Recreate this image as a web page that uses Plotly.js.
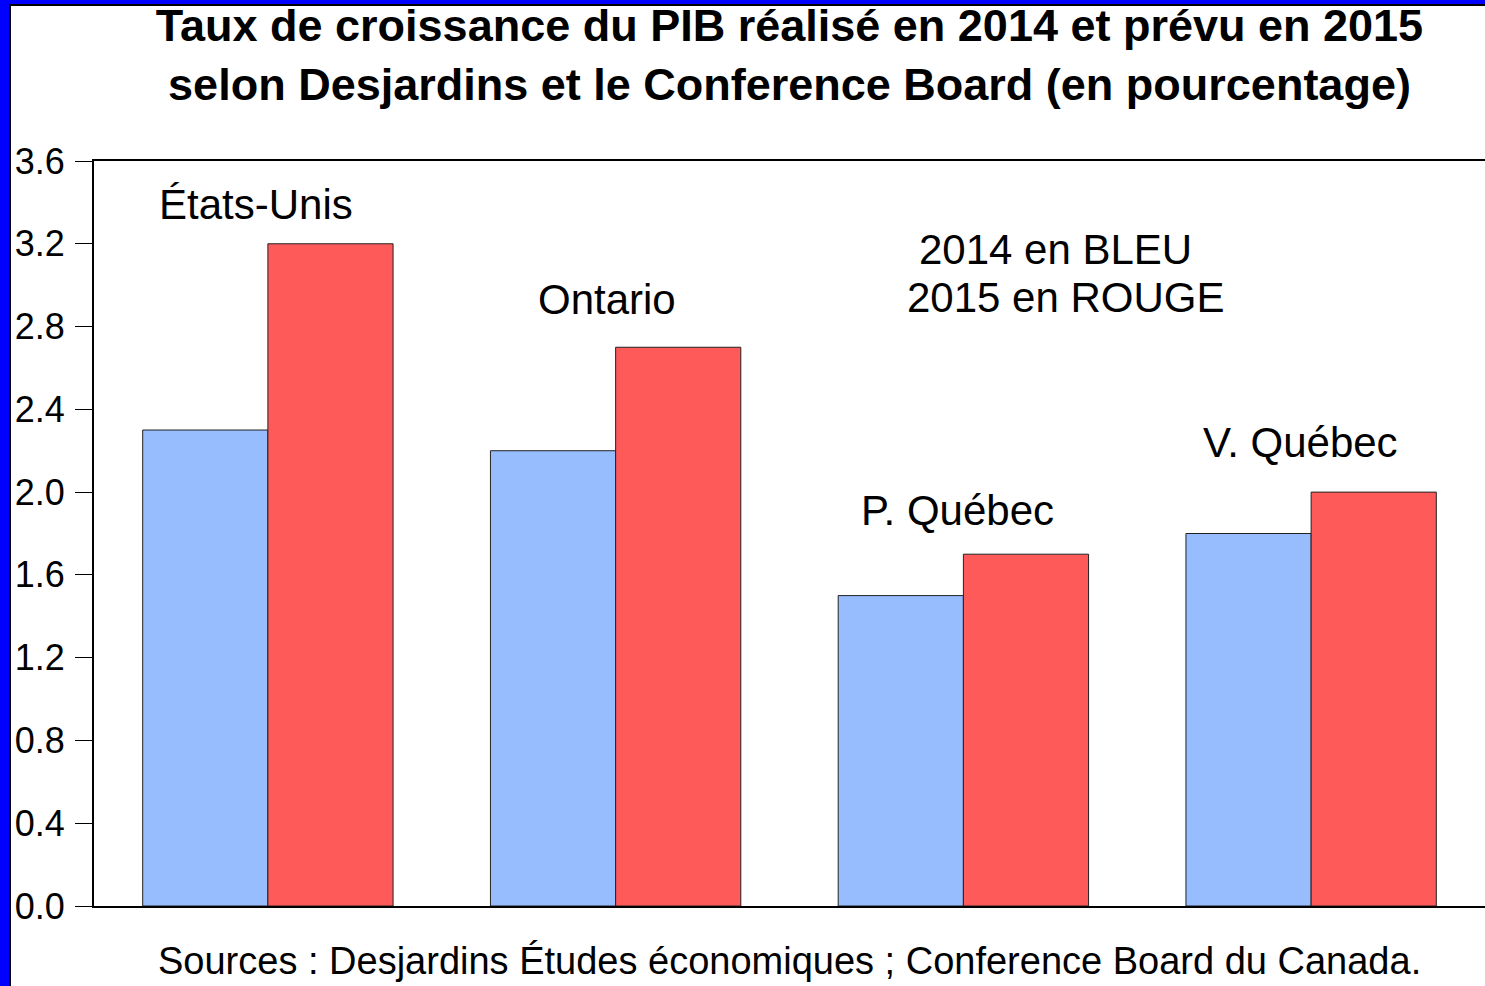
<!DOCTYPE html>
<html>
<head>
<meta charset="utf-8">
<script src="https://cdn.plot.ly/plotly-3.0.1.min.js"></script>
<style>
  body { margin: 0; background: #fff; }
  #wrap { position: relative; width: 1485px; height: 986px; }
  #chart { width: 1485px; height: 986px; }
  #frame {
    position: absolute; left: 0; top: 0; right: 0; bottom: 0;
    border-left: 9px solid #0000ff; border-top: 4px solid #0000ff;
    box-shadow: inset 2px 2px 0 #000; pointer-events: none;
  }
</style>
</head>
<body>
<div id="wrap">
  <div id="chart"></div>
  <div id="frame"></div>
</div>
<script>
// taux de croissance du PIB, en %
let regions = ['États-Unis', 'Ontario', 'P. Québec', 'V. Québec'];
let pib2014 = [2.3, 2.2, 1.5, 1.8];
let pib2015 = [3.2, 2.7, 1.7, 2.0];
let yTicks = [0, 0.4, 0.8, 1.2, 1.6, 2.0, 2.4, 2.8, 3.2, 3.6];

let police = 'Liberation Sans, Arial, sans-serif';

let trace_1 = {
    type: 'bar',
    name: '2014',
    x: regions,
    y: pib2014,
    marker: {color: 'rgb(151,189,255)', line: {color: '#222', width: 1}}
};

let trace_2 = {
    type: 'bar',
    name: '2015',
    x: regions,
    y: pib2015,
    marker: {color: 'rgb(255,90,90)', line: {color: '#222', width: 1}}
};

// etiquettes au-dessus des groupes (decalage x, hauteur y en unites du graphe)
let labelPos = [[-0.033, 3.39], [0.974, 2.93], [1.983, 1.91], [2.968, 2.24]];
let notes = regions.map(function(r, i){
    return {
        text: r, xref: 'x', yref: 'y',
        x: labelPos[i][0], y: labelPos[i][1],
        showarrow: false, xanchor: 'center', yanchor: 'middle',
        font: {family: police, size: 42, color: '#000'}
    };
});

notes.push({
    text: '2014 en BLEU', xref: 'x', yref: 'y', x: 2.265, y: 3.17,
    showarrow: false, xanchor: 'center', yanchor: 'middle',
    font: {family: police, size: 42, color: '#000'}
});
notes.push({
    text: '2015 en ROUGE', xref: 'x', yref: 'y', x: 2.296, y: 2.94,
    showarrow: false, xanchor: 'center', yanchor: 'middle',
    font: {family: police, size: 42, color: '#000'}
});
notes.push({
    text: 'Sources : Desjardins Études économiques ; Conference Board du Canada.',
    xref: 'paper', yref: 'paper', x: 0.5, y: 0, yshift: -55,
    showarrow: false, xanchor: 'center', yanchor: 'middle',
    font: {family: police, size: 38, color: '#000'}
});

let layout = {
    width: 1485,
    height: 986,
    margin: {l: 94, r: 0, t: 161, b: 80},
    paper_bgcolor: '#fff',
    plot_bgcolor: '#fff',
    showlegend: false,
    barmode: 'group',
    bargap: 0.28,
    bargroupgap: 0,
    font: {family: police, color: '#000'},
    title: {
        text: 'Taux de croissance du PIB réalisé en 2014 et prévu en 2015<br>selon Desjardins et le Conference Board (en pourcentage)',
        font: {family: police, size: 45, color: '#000', weight: 'bold'},
        xref: 'paper', x: 0.5, xanchor: 'center',
        yref: 'container', y: 0.958, yanchor: 'top'
    },
    xaxis: {
        type: 'category',
        range: [-0.5, 3.5],
        showticklabels: false,
        ticks: '',
        showgrid: false,
        showline: true, linecolor: '#000', linewidth: 2,
        mirror: true
    },
    yaxis: {
        range: [0, 3.6],
        tickvals: yTicks,
        tickformat: '.1f',
        ticks: 'outside', ticklen: 17, tickcolor: '#000', tickwidth: 1,
        ticklabelstandoff: 3,
        tickfont: {family: police, size: 36, color: '#000'},
        showgrid: false,
        zeroline: false,
        showline: true, linecolor: '#000', linewidth: 2
    },
    annotations: notes
};

Plotly.newPlot('chart', [trace_1, trace_2], layout, {displayModeBar: false, staticPlot: true});
</script>
</body>
</html>
